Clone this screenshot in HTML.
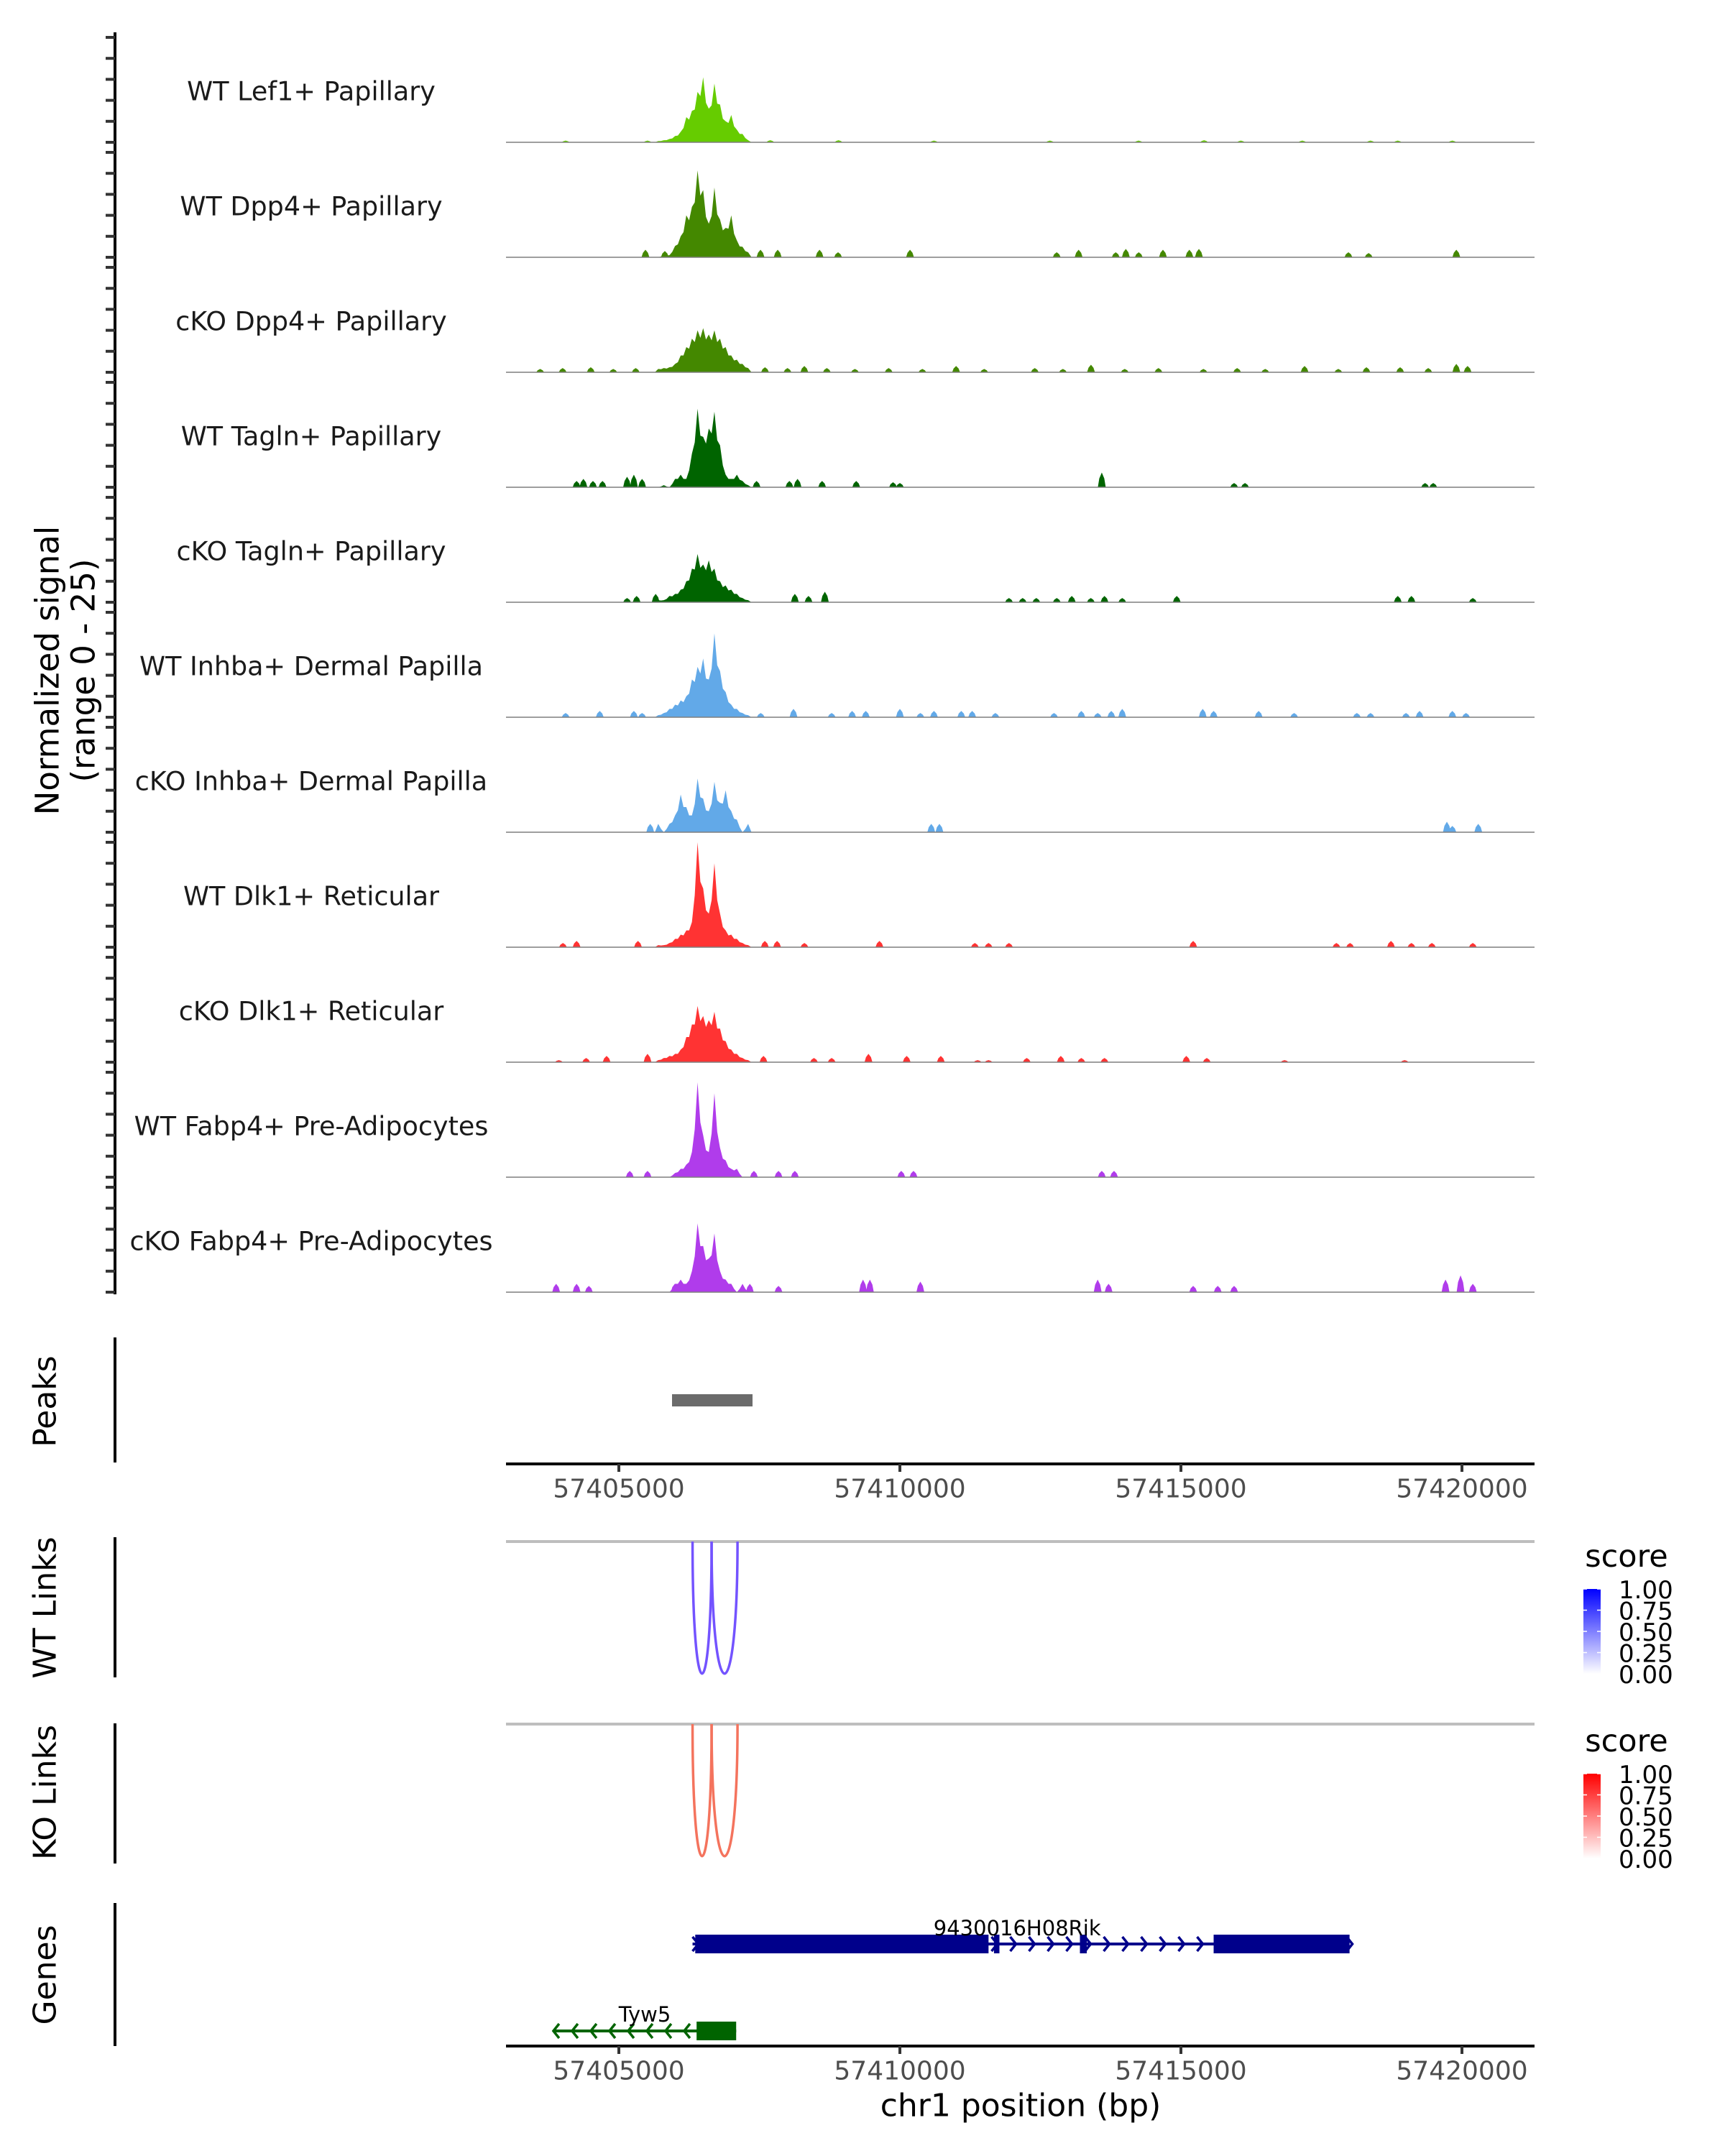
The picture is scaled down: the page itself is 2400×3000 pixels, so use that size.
<!DOCTYPE html>
<html><head><meta charset="utf-8">
<style>
html,body{margin:0;padding:0;background:#fff;}
svg{display:block;font-family:"DejaVu Sans","Liberation Sans",sans-serif;}
</style></head>
<body>
<svg id="fig" width="2400" height="3000" viewBox="0 0 2400 3000" xmlns="http://www.w3.org/2000/svg"></svg>
<script>
// ---------- data ----------
const trackNames = ["WT Lef1+ Papillary","WT Dpp4+ Papillary","cKO Dpp4+ Papillary","WT Tagln+ Papillary","cKO Tagln+ Papillary","WT Inhba+ Dermal Papilla","cKO Inhba+ Dermal Papilla","WT Dlk1+ Reticular","cKO Dlk1+ Reticular","WT Fabp4+ Pre-Adipocytes","cKO Fabp4+ Pre-Adipocytes"];
const trackColors = ["#66cc00","#448800","#448800","#006400","#006400","#62a9e8","#62a9e8","#ff3333","#ff3333","#b03ceb","#b03ceb"];
const binStarts = [57405700,57405800,57405900,57406000,57406100,57406200,57406300,57406400,57406500,57406600,57406700,57406800,57406900,57407000,57407100,57407200,57407300];
const peakLef1 = [0.3,0.5,0.8,1.5,2.5,6,7.5,12,15.5,8,14,9,5,6.5,3,2,0.5];
const peakDpp4WT = [0,0.5,0.5,2.7,5,10,12,20.7,16,8,16.6,9,7,10,4,2.5,1.2];
const peakDpp4KO = [0.8,1,1.2,2,4,6,8,10,10.5,9,10,8,6,4,3,2,1];
const peakTaglnWT = [0,0.5,0,2,3,2,8,18.7,12,14,18,10,3,2,3,1.5,0.5];
const peakTaglnKO = [0.5,0.5,1.5,2,3,5,8,11.5,9,10,8,5,4,3,2,1,0.5];
const peakInhbaWT = [0.5,1,2,3,4,5,9,12,14,9,20,11,6,3,2,1,0.5];
const peakInhbaKO = [2,0,2,4,9,6,4,12.8,8,5,12,7,10,5,3,0,2];
const peakDlk1WT = [0.5,0.5,1,2,3,4,6,25,14,8,20,8,4,3,2,1,0.5];
const peakDlk1KO = [0.5,1,1.5,2,3,6,9,13.4,11,10,12,8,5,3,2,1,0.5];
const peakFabp4WT = [0,0,0,1,2,3,6,22.6,10,6,20,7,4,2,2,0,0];
const peakFabp4KO = [0,0,0,2,3,2,5,16.4,11,8,14,5,3,2,0,2,0];
const peakValues = [peakLef1,peakDpp4WT,peakDpp4KO,peakTaglnWT,peakTaglnKO,peakInhbaWT,peakInhbaKO,peakDlk1WT,peakDlk1KO,peakFabp4WT,peakFabp4KO];

const blipPosLef1 = [57404053,57405510,57407694,57408908,57410606,57412669,57414247,57415412,57416067,57417159,57418373,57418858,57419829];
const blipValLef1 = [0.4,0.4,0.5,0.5,0.4,0.4,0.4,0.5,0.4,0.4,0.4,0.4,0.4];
const blipPosDpp4WT = [57405473,57405818,57407520,57407826,57408570,57408900,57410180,57412790,57413180,57413840,57414020,57414250,57414680,57415150,57415320,57417980,57418340,57419900];
const blipValDpp4WT = [1.8,1.5,1.8,1.8,1.8,1.2,1.8,1.2,1.8,1.2,2,1.2,1.8,1.8,2,1.2,1,1.8];
const blipPosDpp4KO = [57403600,57404000,57404500,57404900,57405300,57407600,57408000,57408300,57408700,57409200,57409800,57410400,57411000,57411500,57412400,57412900,57413400,57414000,57414600,57415400,57416000,57416500,57417200,57417800,57418300,57418900,57419400,57419900,57420100];
const blipValDpp4KO = [0.8,1,1.2,0.8,1,1.2,1,1.5,1,0.8,1,0.8,1.5,0.8,1,0.8,1.8,0.8,1,0.8,1,0.8,1.5,0.8,1.2,1.2,1,2,1.5];
const blipPosTaglnWT = [57404248,57404369,57404539,57404709,57405146,57405267,57405413,57407450,57408034,57408179,57408616,57409223,57409878,57410000,57413592,57415946,57416140,57419344,57419489];
const blipValTaglnWT = [1.5,2,1.5,1.5,2.5,3,2,1.5,1.5,2,1.5,1.5,1.2,1,3.5,1,1,1,1];
const blipPosTaglnKO = [57405146,57405316,57405655,57408131,57408374,57408665,57411941,57412184,57412427,57412791,57413058,57413397,57413640,57413956,57414926,57418858,57419101,57420193];
const blipValTaglnKO = [1,1.5,2,2,1.5,2.5,1,1,1,1,1.5,1,1.5,1,1.5,1.5,1.5,1];
const blipPosInhbaWT = [57404053,57404660,57405267,57405413,57407524,57408107,57408786,57409150,57409393,57410000,57410364,57410606,57411092,57411286,57411699,57412742,57413228,57413519,57413761,57413956,57415388,57415582,57416383,57417014,57418130,57418373,57419004,57419246,57419829,57420072];
const blipValInhbaWT = [1,1.5,1.5,1,1,2,1,1.5,1.5,2,1,1.5,1.5,1.5,1,1,1.5,1,1.5,2,2,1.5,1.5,1,1,1,1,1.5,1.5,1];
const blipPosInhbaKO = [57405558,57410558,57410703,57419732,57419829,57420290];
const blipValInhbaKO = [2,2,2,2.5,1.5,2];
const blipPosDlk1WT = [57404005,57404248,57405340,57407597,57407815,57408301,57409636,57411334,57411577,57411941,57415218,57417766,57418009,57418737,57419101,57419465,57420193];
const blipValDlk1WT = [1,1.5,1.5,1.5,1.5,1,1.5,1,1,1,1.5,1,1,1.5,1,1,1];
const blipPosDlk1KO = [57403932,57404418,57404782,57405510,57407573,57408471,57408786,57409441,57410121,57410728,57411383,57411577,57412257,57412863,57413228,57413640,57415096,57415460,57416844,57418980];
const blipValDlk1KO = [0.5,1,1.5,2,1.5,1,1,2,1.5,1.5,0.5,0.5,1,1.5,1,1,1.5,1,0.5,0.5];
const blipPosFabp4WT = [57405194,57405510,57407403,57407840,57408131,57410024,57410242,57413592,57413810];
const blipValFabp4WT = [1.5,1.5,1.5,1.5,1.5,1.5,1.5,1.5,1.5];
const blipPosFabp4KO = [57403884,57404248,57404466,57405995,57407330,57407840,57409344,57409466,57410364,57413519,57413713,57415218,57415655,57415946,57419708,57419975,57420193];
const blipValFabp4KO = [2,2,1.5,2,2,1.5,3,3,2.5,3,2,1.5,1.5,1.5,3,4,2];
const blipPositions = [blipPosLef1,blipPosDpp4WT,blipPosDpp4KO,blipPosTaglnWT,blipPosTaglnKO,blipPosInhbaWT,blipPosInhbaKO,blipPosDlk1WT,blipPosDlk1KO,blipPosFabp4WT,blipPosFabp4KO];
const blipValues = [blipValLef1,blipValDpp4WT,blipValDpp4KO,blipValTaglnWT,blipValTaglnKO,blipValInhbaWT,blipValInhbaKO,blipValDlk1WT,blipValDlk1KO,blipValFabp4WT,blipValFabp4KO];

const signalTicks = [0,5,10,15,20,25];
const xTicks = [57405000,57410000,57415000,57420000];
const xTickLabels = ["57405000","57410000","57415000","57420000"];
const peakStart = [57405946];
const peakEnd = [57407378];
const wtLinkStarts = [57406311,57406650];
const wtLinkEnds = [57406650,57407111];
const wtLinkScores = [0.8,0.8];
const koLinkStarts = [57406311,57406650];
const koLinkEnds = [57406650,57407111];
const koLinkScores = [0.72,0.72];
const legendTicks = [1.00,0.75,0.50,0.25,0.00];
const legendTickLabels = ["1.00","0.75","0.50","0.25","0.00"];
const geneAExons = [[57406359,57411577],[57411674,57411771],[57413203,57413325],[57415582,57418000]];
const geneARange = [57406311,57418000];
const geneBExons = [[57406383,57407087]];
const geneBRange = [57403835,57407087];

// ---------- scales ----------
const X0 = 704, X1 = 2135;
const x = p => X0 + (p - 57402992) * 0.0782;
const PXU = 5.84;
const baseOf = i => 198 + 160 * i;
const NS = "http://www.w3.org/2000/svg";
const svg = document.getElementById('fig');
function mk(tag, attrs, parent) {
  const e = document.createElementNS(NS, tag);
  for (const k in attrs) e.setAttribute(k, attrs[k]);
  (parent || svg).appendChild(e);
  return e;
}
function txt(s, attrs, parent) { const e = mk('text', attrs, parent); e.textContent = s; return e; }

// ---------- coverage tracks ----------
const axL = mk('line', {x1:160,y1:45,x2:160,y2:1801,stroke:'#000','stroke-width':4});


const yt = mk('text', {x:0,y:0,'font-size':45,fill:'#000','text-anchor':'middle','dominant-baseline':'central',transform:'translate(66,933) rotate(-90)'});


yt.textContent = 'Normalized signal';
const yt2 = mk('text', {x:0,y:0,'font-size':45,fill:'#000','text-anchor':'middle','dominant-baseline':'central',transform:'translate(116,933) rotate(-90)'});


yt2.textContent = '(range 0 - 25)';

for (let i = 0; i < trackNames.length; i++) {
  const b = baseOf(i);
  const g = mk('g', {});
  
  
  for (const t of signalTicks) {
    const tk = mk('line', {x1:147,x2:160,y1:b - t*PXU,y2:b - t*PXU,stroke:'#333','stroke-width':4}, g);
    
    
  }
  const lab = txt(trackNames[i], {x:433,y:b-71,'font-size':36.5,fill:'#1a1a1a','text-anchor':'middle','dominant-baseline':'central'}, g);
  
  
  const bp = blipPositions[i], bv = blipValues[i];
  for (let j = 0; j < bp.length; j++) {
    const xa = x(bp[j] - 70), xb = x(bp[j] + 70), xm = x(bp[j]);
    const h = bv[j]*PXU;
    const bl = mk('polygon', {points:`${xa},${b} ${xa+2},${b-h*0.6} ${xm},${b-h} ${xb-2},${b-h*0.6} ${xb},${b}`, fill:trackColors[i]}, g);
    
    
  }
  const vals = peakValues[i];
  let pts = `${x(binStarts[0]-60)},${b} `;
  for (let j = 0; j < binStarts.length; j++) {
    pts += `${x(binStarts[j])},${b - vals[j]*PXU} `;
    if (j < binStarts.length - 1) {
      const mid = (vals[j] + vals[j+1]) / 2;
      pts += `${x(binStarts[j]+50)},${b - mid*0.8*PXU} `;
    }
  }
  pts += `${x(binStarts[binStarts.length-1]+60)},${b}`;
  const pk = mk('polygon', {points:pts, fill:trackColors[i]}, g);
  
  
  const bl0 = mk('line', {x1:X0,x2:X1,y1:b,y2:b,stroke:'#7f7f7f','stroke-width':1.5}, g);
  
  
}

// ---------- panels ----------
function panel(name, y1, y2, title, ty) {
  const l = mk('line', {x1:160,x2:160,y1:y1,y2:y2,stroke:'#000','stroke-width':4});
  
  
  const t = mk('text', {x:0,y:0,'font-size':44,fill:'#000','text-anchor':'middle','dominant-baseline':'central',transform:`translate(63,${ty}) rotate(-90)`});
  
  
  t.textContent = title;
}
panel('peaks', 1861, 2035, 'Peaks', 1950);
panel('wt-links', 2139, 2334, 'WT Links', 2237);
panel('ko-links', 2398, 2593, 'KO Links', 2494);
panel('genes', 2648, 2847, 'Genes', 2748);

for (let j = 0; j < peakStart.length; j++) {
  const r = mk('rect', {x:x(peakStart[j]),y:1940,width:x(peakEnd[j])-x(peakStart[j]),height:17,fill:'#6b6b6b'});
  
  
}

function xAxis(name, y) {
  const l = mk('line', {x1:X0,x2:X1,y1:y,y2:y,stroke:'#000','stroke-width':4});
  
  
  for (let k = 0; k < xTicks.length; k++) {
    const t = mk('line', {x1:x(xTicks[k]),x2:x(xTicks[k]),y1:y,y2:y+11,stroke:'#333','stroke-width':4});
    
    
    const tl = txt(xTickLabels[k], {x:x(xTicks[k]),y:y+35,'font-size':36,fill:'#4d4d4d','text-anchor':'middle','dominant-baseline':'central'});
    
    
  }
}
xAxis('peaks', 2037);
xAxis('genes', 2847);
const xt = txt('chr1 position (bp)', {x:1420,y:2930,'font-size':44,fill:'#000','text-anchor':'middle','dominant-baseline':'central'});



// ---------- links ----------
function mixColor(c, s) {
  const r = Math.round(255 + (c[0]-255)*s), g = Math.round(255 + (c[1]-255)*s), b = Math.round(255 + (c[2]-255)*s);
  return `rgb(${r},${g},${b})`;
}
function links(name, yTop, starts, ends, scores, col) {
  const gl = mk('line', {x1:X0,x2:X1,y1:yTop,y2:yTop,stroke:'#bebebe','stroke-width':4});
  
  
  for (let j = 0; j < starts.length; j++) {
    const a = x(starts[j]), c = x(ends[j]), d = 245;
    const p = mk('path', {d:`M${a},${yTop} C${a},${yTop+d} ${c},${yTop+d} ${c},${yTop}`, fill:'none', stroke:mixColor(col, scores[j]), 'stroke-width':3.5});
    
    
  }
}
links('wt-link', 2145, wtLinkStarts, wtLinkEnds, wtLinkScores, [80,40,255]);
links('ko-link', 2399, koLinkStarts, koLinkEnds, koLinkScores, [240,60,30]);

// ---------- legends ----------
const defs = mk('defs', {});
function grad(id, c) {
  const g = mk('linearGradient', {id:id,x1:0,y1:0,x2:0,y2:1}, defs);
  mk('stop', {offset:'0', 'stop-color':c}, g);
  mk('stop', {offset:'1', 'stop-color':'#ffffff'}, g);
}
grad('gb', '#0000ff'); grad('gr', '#ff0000');
function legend(name, y0, gid) {
  const t = txt('score', {x:2263,y:y0,'font-size':43,fill:'#000','text-anchor':'middle'});
  
  
  const top = y0 + 31, h = 118;
  const r = mk('rect', {x:2203,y:top,width:24,height:h,fill:`url(#${gid})`});
  
  
  for (let k = 0; k < legendTicks.length; k++) {
    const yy = top + (1 - legendTicks[k]) * h;
    const tk = mk('line', {x1:2203,x2:2208,y1:yy,y2:yy,stroke:'#fff','stroke-width':1.5});
    
    
    const tk2 = mk('line', {x1:2222,x2:2227,y1:yy,y2:yy,stroke:'#fff','stroke-width':1.5});
    
    
    const l = txt(legendTickLabels[k], {x:2252,y:yy+2,'font-size':34,fill:'#000','dominant-baseline':'central'});
    
    
  }
}
legend('wt', 2180, 'gb');
legend('ko', 2437, 'gr');

// ---------- genes ----------
function gene(name, range, exons, yc, col, dir, label, lx, ly) {
  const g = mk('g', {});
  
  
  const a = x(range[0]), b = x(range[1]);
  const ln = mk('line', {x1:a,x2:b,y1:yc,y2:yc,stroke:col,'stroke-width':4}, g);
  
  
  for (let cx = a + 4; cx < b; cx += 26) {
    const d = dir > 0 ? `M${cx-4},${yc-10} L${cx+4},${yc} L${cx-4},${yc+10}` : `M${cx+4},${yc-10} L${cx-4},${yc} L${cx+4},${yc+10}`;
    const ch = mk('path', {d:d, fill:'none', stroke:col, 'stroke-width':3.5}, g);
    
    
  }
  for (const e of exons) {
    const r = mk('rect', {x:x(e[0]),y:yc-13,width:Math.max(3,x(e[1])-x(e[0])),height:26,fill:col}, g);
    
    
  }
  const t = txt(label, {x:lx,y:ly,'font-size':29,fill:'#000','text-anchor':'middle','dominant-baseline':'central'}, g);
  
  
}
gene('9430016h08rik', geneARange, geneAExons, 2705, '#00008b', 1, '9430016H08Rik', x(57412087), 2683);
gene('tyw5', geneBRange, geneBExons, 2826, '#006400', -1, 'Tyw5', x(57405461), 2803);
</script>
</body></html>
